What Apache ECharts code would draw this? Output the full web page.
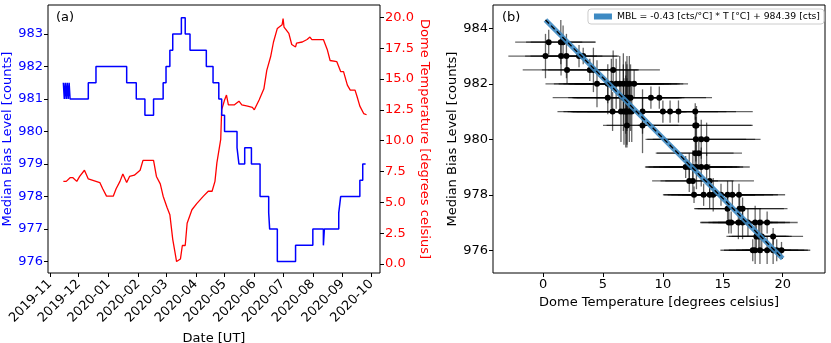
<!DOCTYPE html>
<html lang="en">
<head>
    <meta charset="UTF-8">
    <title>Median bias level vs dome temperature</title>
    <script src="https://cdn.jsdelivr.net/npm/echarts@6/dist/echarts.min.js"></script>
    <style>
        *{ padding: 0; margin: 0; }
        #chart{ width: 831px; height: 343px; background: #fff; }
    </style>
</head>
<body>
<div id="chart"></div>
<script>
    // (a) bias level, step changes: [date where new level starts, counts]
    var biasSteps = [
        ['2019-11-15', 981.5], ['2019-11-16', 981], ['2019-11-17', 981.5], ['2019-11-18', 981],
        ['2019-11-19', 981.5], ['2019-11-20', 981], ['2019-11-21', 981.5], ['2019-11-22', 981],
        ['2019-12-11', 981.5], ['2019-12-19', 982], ['2020-01-20', 981.5], ['2020-01-30', 981],
        ['2020-02-08', 980.5], ['2020-02-17', 981], ['2020-02-27', 981.5], ['2020-03-01', 982],
        ['2020-03-05', 982.5], ['2020-03-08', 983], ['2020-03-17', 983.5], ['2020-03-21', 983],
        ['2020-03-26', 982.5], ['2020-04-12', 982], ['2020-04-19', 981.5], ['2020-04-25', 981],
        ['2020-04-28', 980.5], ['2020-05-01', 980], ['2020-05-14', 979.5], ['2020-05-16', 979],
        ['2020-05-22', 979.5], ['2020-05-29', 979], ['2020-06-07', 978], ['2020-06-16', 977.5],
        ['2020-06-17', 977], ['2020-06-25', 976], ['2020-07-14', 976.5], ['2020-08-01', 977],
        ['2020-08-12', 976.5], ['2020-08-13', 977], ['2020-08-28', 977.5], ['2020-08-30', 978],
        ['2020-09-19', 978.5], ['2020-09-22', 979], ['2020-09-25', 979]
    ];

    // (a) dome temperature [degrees celsius]
    var tempDates = [
        '2019-11-15', '2019-11-18', '2019-11-22', '2019-11-25', '2019-11-29', '2019-12-02', '2019-12-07',
        '2019-12-11', '2019-12-19', '2019-12-23', '2019-12-26', '2019-12-30', '2020-01-06', '2020-01-09',
        '2020-01-13', '2020-01-16', '2020-01-20', '2020-01-23', '2020-01-28', '2020-02-03', '2020-02-06',
        '2020-02-17', '2020-02-20', '2020-02-24', '2020-02-27', '2020-03-02', '2020-03-05', '2020-03-08',
        '2020-03-10', '2020-03-12', '2020-03-16', '2020-03-18', '2020-03-21', '2020-03-23', '2020-03-28',
        '2020-04-02', '2020-04-09', '2020-04-14', '2020-04-18', '2020-04-21', '2020-04-23', '2020-04-27',
        '2020-04-28', '2020-05-01', '2020-05-03', '2020-05-05', '2020-05-11', '2020-05-16', '2020-05-19',
        '2020-05-25', '2020-05-30', '2020-06-01', '2020-06-06', '2020-06-11', '2020-06-14', '2020-06-18',
        '2020-06-21', '2020-06-25', '2020-06-30', '2020-07-01', '2020-07-02', '2020-07-07', '2020-07-10',
        '2020-07-14', '2020-07-15', '2020-07-21', '2020-07-26', '2020-07-29', '2020-07-31', '2020-08-12',
        '2020-08-16', '2020-08-19', '2020-08-26', '2020-08-30', '2020-09-02', '2020-09-06', '2020-09-09',
        '2020-09-14', '2020-09-16', '2020-09-19', '2020-09-23', '2020-09-26'
    ];
    var tempValues = [
        6.7, 6.7, 7.0, 7.0, 6.7, 7.1, 7.6,
        6.9, 6.7, 6.6, 6.1, 5.5, 5.5, 6.1,
        6.7, 7.3, 6.6, 7.1, 7.2, 7.6, 8.4,
        8.4, 7.1, 6.5, 5.5, 4.6, 4.0, 2.0,
        1.1, 0.2, 0.4, 1.5, 1.5, 3.3, 4.4,
        4.9, 5.5, 5.9, 5.9, 6.7, 8.2, 10.1,
        12.5, 13.3, 13.7, 12.9, 12.9, 13.2, 12.9,
        12.8, 12.7, 12.5, 13.3, 14.2, 15.7, 16.8,
        18.0, 19.1, 19.4, 19.9, 19.2, 18.7, 17.8,
        17.6, 17.9, 18.0, 18.2, 18.4, 18.2, 18.2,
        17.4, 16.5, 16.4, 15.6, 15.6, 14.5, 14.1,
        14.1, 13.6, 12.8, 12.2, 12.1
    ];
    var monthTicks = ['2019-11', '2019-12', '2020-01', '2020-02', '2020-03', '2020-04',
        '2020-05', '2020-06', '2020-07', '2020-08', '2020-09', '2020-10'];
    var biasTicks = [976, 977, 978, 979, 980, 981, 982, 983];
    var tempTicks = [0, 2.5, 5, 7.5, 10, 12.5, 15, 17.5, 20];

    // (b) daily points: dome temperature, bias level and their errors
    var ptTemp = [
        0.47, 1.48, 1.67,
        0.2, 1.5, 1.95, 3.0, 3.35,
        2.0, 3.9, 4.2, 5.85,
        4.5, 5.4, 5.7, 6.1, 6.4, 6.7, 7.0, 7.2, 7.6,
        5.4, 6.7, 6.9, 7.0, 7.1, 7.3, 9.0, 9.7,
        5.8, 6.5, 6.75, 6.9, 7.0, 7.2, 7.4, 8.3, 10.0, 10.6, 11.3, 12.7,
        7.0, 8.3, 12.7, 12.8,
        12.75, 13.2, 13.65,
        12.7, 13.0,
        11.9, 12.2, 12.5, 12.8, 13.2, 13.65,
        12.2, 12.5, 13.9,
        12.6, 13.4, 13.9, 14.2, 14.85, 15.4, 15.8, 16.35,
        15.4, 16.4, 16.65,
        15.5, 15.7, 16.3, 16.65, 17.1, 17.7, 18.1, 18.7,
        17.8, 18.0, 18.25, 19.2,
        17.5, 17.7, 18.1, 18.7, 19.2, 19.5, 19.9
    ];
    var ptBias = [
        983.5, 983.5, 983.5,
        983, 983, 983, 983, 983,
        982.5, 982.5, 982.5, 982.5,
        982, 982, 982, 982, 982, 982, 982, 982, 982,
        981.5, 981.5, 981.5, 981.5, 981.5, 981.5, 981.5, 981.5,
        981, 981, 981, 981, 981, 981, 981, 981, 981, 981, 981, 981,
        980.5, 980.5, 980.5, 980.5,
        980, 980, 980,
        979.5, 979.5,
        979, 979, 979, 979, 979, 979,
        978.5, 978.5, 978.5,
        978, 978, 978, 978, 978, 978, 978, 978,
        977.5, 977.5, 977.5,
        977, 977, 977, 977, 977, 977, 977, 977,
        976.5, 976.5, 976.5, 976.5,
        976, 976, 976, 976, 976, 976, 976
    ];
    var ptTempErr = [
        2.8, 2.9, 2.7,
        3.1, 3.0, 3.0, 3.2, 3.0,
        3.7, 4.0, 3.8, 3.9,
        4.3, 4.5, 4.4, 4.4, 4.3, 4.5, 4.4, 4.5, 4.5,
        4.6, 4.6, 4.5, 4.5, 4.5, 4.5, 4.6, 4.4,
        4.6, 4.8, 4.7, 4.6, 4.6, 4.7, 4.6, 4.6, 4.6, 4.7, 4.8, 4.8,
        2.0, 3.0, 4.8, 4.6,
        4.2, 4.5, 4.5,
        3.2, 3.6,
        3.4, 3.6, 3.7, 3.6, 3.5, 3.6,
        2.4, 3.4, 3.7,
        2.6, 3.0, 3.8, 3.5, 3.6, 3.8, 3.8, 3.85,
        2.8, 3.7, 3.75,
        2.4, 2.5, 2.5, 2.5, 2.5, 2.5, 2.5, 2.55,
        2.5, 2.5, 2.5, 2.5,
        2.7, 2.6, 2.6, 2.6, 2.6, 2.6, 2.4
    ];
    var ptBiasErr = [
        0.45, 0.8, 0.6,
        0.8, 0.7, 0.8, 0.4, 0.3,
        0.5, 0.4, 0.8, 0.7,
        0.85, 0.7, 0.9, 0.9, 1.0, 1.1, 1.0, 1.0, 0.5,
        0.6, 1.2, 1.3, 1.2, 1.0, 1.2, 0.4, 0.4,
        0.7, 1.1, 1.2, 1.3, 1.2, 1.1, 1.1, 0.8, 0.4, 0.4, 0.4, 0.3,
        0.8, 1.0, 0.6, 0.7,
        0.8, 0.7, 0.6,
        0.6, 0.6,
        0.4, 0.5, 0.6, 0.8, 0.7, 0.5,
        0.4, 0.5, 0.6,
        0.3, 0.4, 0.5, 0.6, 0.4, 0.5, 0.5, 0.4,
        0.4, 0.6, 0.4,
        0.4, 0.4, 0.6, 0.6, 0.5, 0.6, 0.5, 0.4,
        0.4, 0.5, 0.6, 0.3,
        0.4, 0.5, 0.5, 0.5, 0.5, 0.4, 0.3
    ];
    // fitted line end points (T, MBL)
    var fitTemp = [0.2, 20.0];
    var fitBias = [984.3, 975.7];
    var fitName = 'MBL = -0.43 [cts/°C] * T [°C] + 984.39 [cts]';
    var rightTicksX = [0, 5, 10, 15, 20];
    var rightTicksY = [976, 978, 980, 982, 984];

    function toTime(s) {
        var p = s.split('-');
        return new Date(+p[0], +p[1] - 1, p[2] ? +p[2] : 1).getTime();
    }
    function ym(v) {
        var d = new Date(v);
        return d.getFullYear() + '-' + String(d.getMonth() + 1).padStart(2, '0');
    }

    var font = 'DejaVu Sans';
    var monthValues = monthTicks.map(toTime);
    var biasData = biasSteps.map(function (d) { return [toTime(d[0]), d[1]]; });
    var tempData = tempDates.map(function (d, i) { return [toTime(d), tempValues[i]]; });
    var pointData = ptTemp.map(function (t, i) { return [t, ptBias[i], ptTempErr[i], ptBiasErr[i]]; });
    var fitData = fitTemp.map(function (t, i) { return [t, fitBias[i]]; });

    var tick = { show: true, length: 4, lineStyle: { color: '#000', width: 1 } };
    var noLine = { show: false, onZero: false };

    var my_chart = echarts.init(document.getElementById('chart'), null, { renderer: 'canvas' });
    my_chart.setOption({
        backgroundColor: '#ffffff',
        animation: false,
        textStyle: { fontFamily: font },
        title: [
            { text: '(a)', left: 56, top: 11, padding: 0, textStyle: { fontSize: 13, fontWeight: 'normal', color: '#000', fontFamily: font } },
            { text: '(b)', left: 502, top: 11, padding: 0, textStyle: { fontSize: 13, fontWeight: 'normal', color: '#000', fontFamily: font } }
        ],
        legend: {
            data: [fitName],
            right: 7, top: 9,
            icon: 'rect', itemWidth: 18, itemHeight: 6, itemGap: 6,
            padding: [3, 4, 3, 6],
            borderColor: '#cccccc', borderWidth: 1, borderRadius: 3,
            backgroundColor: 'rgba(255,255,255,0.8)',
            textStyle: { fontSize: 9.3, color: '#000', fontFamily: font }
        },
        grid: [
            { left: 48, right: 451, top: 5, bottom: 70, show: true, borderColor: '#000', borderWidth: 1,
              containLabel: false, outerBoundsMode: 'none' },
            { left: 493, right: 6, top: 5, bottom: 70, show: true, borderColor: '#000', borderWidth: 1,
              containLabel: false, outerBoundsMode: 'none' }
        ],
        xAxis: [
            {
                type: 'value', gridIndex: 0,
                min: toTime('2019-10-30'), max: toTime('2020-10-10'),
                name: 'Date [UT]', nameLocation: 'middle', nameGap: 50,
                nameTextStyle: { fontSize: 13, color: '#000', fontFamily: font },
                axisLine: noLine,
                axisTick: Object.assign({ customValues: monthValues }, tick),
                splitLine: { show: false },
                axisLabel: {
                    customValues: monthValues, rotate: 45, margin: 9,
                    fontSize: 13, color: '#000', fontFamily: font,
                    formatter: function (v) { return ym(v); }
                }
            },
            {
                type: 'value', gridIndex: 1, min: -4.18, max: 23.53,
                name: 'Dome Temperature [degrees celsius]', nameLocation: 'middle', nameGap: 20,
                nameTextStyle: { fontSize: 13, color: '#000', fontFamily: font },
                axisLine: noLine,
                axisTick: Object.assign({ customValues: rightTicksX }, tick),
                splitLine: { show: false },
                axisLabel: { customValues: rightTicksX, margin: 5, fontSize: 13, color: '#000', fontFamily: font }
            }
        ],
        yAxis: [
            {
                type: 'value', gridIndex: 0, position: 'left', min: 975.65, max: 983.89,
                name: 'Median Bias Level [counts]', nameLocation: 'middle', nameGap: 28,
                nameTextStyle: { fontSize: 13, color: '#0000ff', fontFamily: font },
                axisLine: noLine,
                axisTick: Object.assign({ customValues: biasTicks }, tick),
                splitLine: { show: false },
                axisLabel: { customValues: biasTicks, margin: 5, fontSize: 13, color: '#0000ff', fontFamily: font }
            },
            {
                type: 'value', gridIndex: 0, position: 'right', min: -0.73, max: 21.0,
                name: 'Dome Temperature [degrees celsius]', nameLocation: 'middle', nameGap: 35, nameRotate: -90,
                nameTextStyle: { fontSize: 13, color: '#ff0000', fontFamily: font },
                axisLine: noLine,
                axisTick: Object.assign({ customValues: tempTicks }, tick),
                splitLine: { show: false },
                axisLabel: {
                    customValues: tempTicks, margin: 5, fontSize: 13, color: '#ff0000', fontFamily: font,
                    formatter: function (v) { return v.toFixed(1); }
                }
            },
            {
                type: 'value', gridIndex: 1, min: 975.18, max: 984.84,
                name: 'Median Bias Level [counts]', nameLocation: 'middle', nameGap: 32,
                nameTextStyle: { fontSize: 13, color: '#000', fontFamily: font },
                axisLine: noLine,
                axisTick: Object.assign({ customValues: rightTicksY }, tick),
                splitLine: { show: false },
                axisLabel: { customValues: rightTicksY, margin: 5, fontSize: 13, color: '#000', fontFamily: font }
            }
        ],
        series: [
            {
                name: 'bias', type: 'line', xAxisIndex: 0, yAxisIndex: 0,
                step: 'end', data: biasData, showSymbol: false,
                lineStyle: { color: '#0000ff', width: 1.5 }, z: 3
            },
            {
                name: 'temp', type: 'line', xAxisIndex: 0, yAxisIndex: 1,
                data: tempData, showSymbol: false,
                lineStyle: { color: '#ff0000', width: 1.3 }, z: 2
            },
            {
                // error bars
                name: 'errors', type: 'custom', xAxisIndex: 1, yAxisIndex: 2,
                data: pointData, encode: { x: 0, y: 1 }, z: 2,
                renderItem: function (params, api) {
                    var x = api.value(0), y = api.value(1), ex = api.value(2), ey = api.value(3);
                    var a = api.coord([x - ex, y]), b = api.coord([x + ex, y]);
                    var c = api.coord([x, y - ey]), d = api.coord([x, y + ey]);
                    var st = { stroke: 'rgba(0,0,0,0.6)', lineWidth: 1.3 };
                    return {
                        type: 'group',
                        children: [
                            { type: 'line', shape: { x1: a[0], y1: a[1], x2: b[0], y2: b[1] }, style: st },
                            { type: 'line', shape: { x1: c[0], y1: c[1], x2: d[0], y2: d[1] }, style: st }
                        ]
                    };
                }
            },
            {
                name: 'points', type: 'scatter', xAxisIndex: 1, yAxisIndex: 2,
                data: pointData, symbolSize: 6, itemStyle: { color: '#000', opacity: 1 }, z: 3
            },
            {
                name: fitName, type: 'line', xAxisIndex: 1, yAxisIndex: 2,
                data: fitData, showSymbol: false, itemStyle: { color: '#3d8ac3' },
                lineStyle: { color: '#3d8ac3', width: 5, opacity: 0.9 }, z: 4
            },
            {
                name: 'fit', type: 'line', xAxisIndex: 1, yAxisIndex: 2,
                data: fitData, showSymbol: false,
                lineStyle: { color: '#000', width: 1.3, type: [5, 3] }, z: 5
            }
        ]
    });
</script>
</body>
</html>
